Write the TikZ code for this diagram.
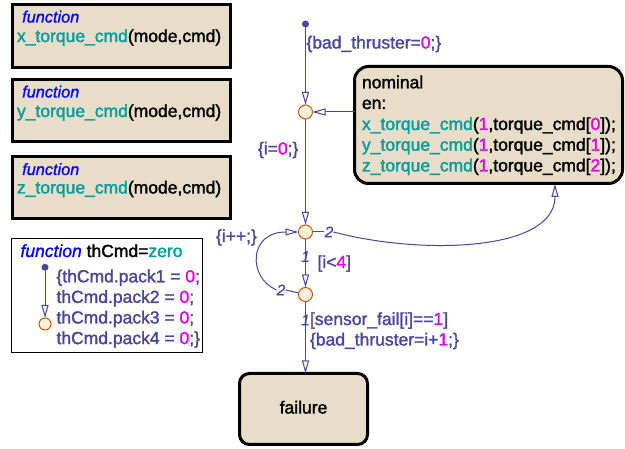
\documentclass[tikz,border=0pt]{standalone}
\usepackage{fontspec}
\setmainfont{Liberation Sans}[UprightFeatures={RawFeature={embolden=1.6}}, ItalicFeatures={RawFeature={embolden=0.8}}]
\usetikzlibrary{arrows.meta}

\definecolor{stfill}{RGB}{231,221,200}
\definecolor{trcol}{RGB}{72,72,150}
\definecolor{numcol}{RGB}{228,0,228}
\definecolor{fncol}{RGB}{0,156,156}
\definecolor{kwcol}{RGB}{0,0,255}
\definecolor{jfill}{RGB}{255,240,218}
\definecolor{jdraw}{RGB}{190,92,16}

\newcommand{\nm}[1]{\textcolor{numcol}{#1}}
\newcommand{\fnm}[1]{\textcolor{fncol}{#1}}
\newcommand{\kwd}[1]{{\color{kwcol}\itshape #1}}

\tikzset{
  txt/.style={font=\fontsize{17.5}{20.7}\selectfont, anchor=base west, inner sep=0pt, outer sep=0pt, align=left},
  kwtxt/.style={font=\fontsize{16.3}{19}\selectfont\itshape, text=kwcol, anchor=base west, inner sep=0pt},
  trtxt/.style={txt, text=trcol},
  digit/.style={font=\fontsize{15.5}{17}\selectfont\itshape, text=trcol, inner sep=0pt},
  funbox/.style={draw=black, line width=3pt, fill=stfill, rectangle, anchor=north west, inner sep=0pt, outer sep=0pt},
  statebox/.style={draw=black, line width=3pt, fill=stfill, rectangle, anchor=north west, inner sep=0pt, outer sep=0pt},
  junc/.style={circle, draw=jdraw, fill=jfill, line width=1pt, minimum size=14pt, inner sep=0pt, outer sep=0pt},
  sjunc/.style={junc, minimum size=12pt},
  dotnode/.style={circle, fill=trcol, minimum size=7pt, inner sep=0pt, outer sep=0pt},
  trans/.style={draw=trcol, line width=1pt, -{Triangle[open, length=13pt, width=7pt, fill=jfill]}},
  plain/.style={draw=trcol, line width=1pt},
}

\begin{document}
\begin{tikzpicture}[x=1pt, y=-1pt]
\useasboundingbox (0,0) rectangle (625,449);

% ---------- graphical functions ----------
\node[funbox, minimum width=218pt, minimum height=63pt] (fx) at (12.5,4.5) {};
\node[kwtxt] at (22,22.5) {function};
\node[txt] at (17,42) {\fnm{x\_torque\_cmd}(mode,cmd)};

\node[funbox, minimum width=218pt, minimum height=62pt] (fy) at (12.5,79.5) {};
\node[kwtxt] at (22,97.5) {function};
\node[txt] at (17,117) {\fnm{y\_torque\_cmd}(mode,cmd)};

\node[funbox, minimum width=218pt, minimum height=62pt] (fz) at (12.5,156.5) {};
\node[kwtxt] at (22,175) {function};
\node[txt] at (17,193.5) {\fnm{z\_torque\_cmd}(mode,cmd)};

% ---------- thCmd = zero ----------
\node[draw=black, line width=1pt, fill=white, rectangle, anchor=north west,
      minimum width=191pt, minimum height=114pt, inner sep=0pt, outer sep=0pt] (fzero) at (11.5,238.5) {};
\node[txt] at (20.5,257) {\kwd{function} thCmd=\fnm{zero}};
\node[dotnode] (zdot) at (45,267.3) {};
\node[sjunc] (zj) at (45,324) {};
\draw[trans] (zdot) -- (zj);
\node[trtxt] at (56.5,282.3) {\{thCmd.pack1 = \nm{0};};
\node[trtxt] at (56.5,302.9) {thCmd.pack2 = \nm{0};};
\node[trtxt] at (56.5,323.5) {thCmd.pack3 = \nm{0};};
\node[trtxt] at (56.5,344.1) {thCmd.pack4 = \nm{0};\}};

% ---------- states ----------
\node[statebox, minimum width=268pt, minimum height=117pt, rounded corners=14pt] (nominal) at (354.5,66.5) {};
\node[txt] at (362,88.3) {nominal};
\node[txt] at (362,109) {en:};
\node[txt] at (362,130) {\fnm{x\_torque\_cmd}(\nm{1},torque\_cmd[\nm{0}]);};
\node[txt] at (362,150.7) {\fnm{y\_torque\_cmd}(\nm{1},torque\_cmd[\nm{1}]);};
\node[txt] at (362,171.4) {\fnm{z\_torque\_cmd}(\nm{1},torque\_cmd[\nm{2}]);};

\node[statebox, minimum width=128pt, minimum height=71pt, rounded corners=10pt] (failure) at (239.5,373.5) {};
\node[txt, anchor=base] at (303.5,413.5) {failure};

% ---------- junctions ----------
\node[dotnode] (start) at (305.5,24) {};
\node[junc] (j1) at (305.5,112) {};
\node[junc] (j2) at (305.5,232) {};
\node[junc] (j3) at (305.5,294.5) {};

% ---------- transitions ----------
\draw[trans] (start) -- (j1);
\node[trtxt] at (306.5,48.5) {\{bad\_thruster=\nm{0};\}};

\draw[trans] (nominal.west |- j1) -- (j1);

\draw[trans] (j1) -- (j2);
\node[trtxt] at (258,154.5) {\{i=\nm{0};\}};

\draw[trans] (j2) -- (j3);
\node[digit] (d21) at (305.5,256.5) {1};
\node[trtxt] at (317.5,268) {[i<\nm{4}]};

% j2 -> nominal (priority 2)
\node[digit] (d22) at (329,232) {2};
\coordinate (nomin) at (555,184);
\draw[plain] (j2) -- (d22.west);
\draw[trans] (d22.east) .. controls (420,255) and (555,252) .. (nomin);

% j3 -> j2 loop (priority 2)
\node[digit] (d32) at (281,290) {2};
\draw[plain] (j3) -- (d32.east);
\draw[trans] (d32.west) .. controls (248,278) and (248,232) .. (j2);
\node[trtxt] at (216,242) {\{i++;\}};

% j3 -> failure (priority 1)
\draw[trans] (j3) -- (failure.north -| j3);
\node[digit] (d31) at (305.5,320) {1};
\node[trtxt] at (310,325) {[sensor\_fail[i]==\nm{1}]};
\node[trtxt] at (310,345.5) {\{bad\_thruster=i+\nm{1};\}};
\end{tikzpicture}
\end{document}
